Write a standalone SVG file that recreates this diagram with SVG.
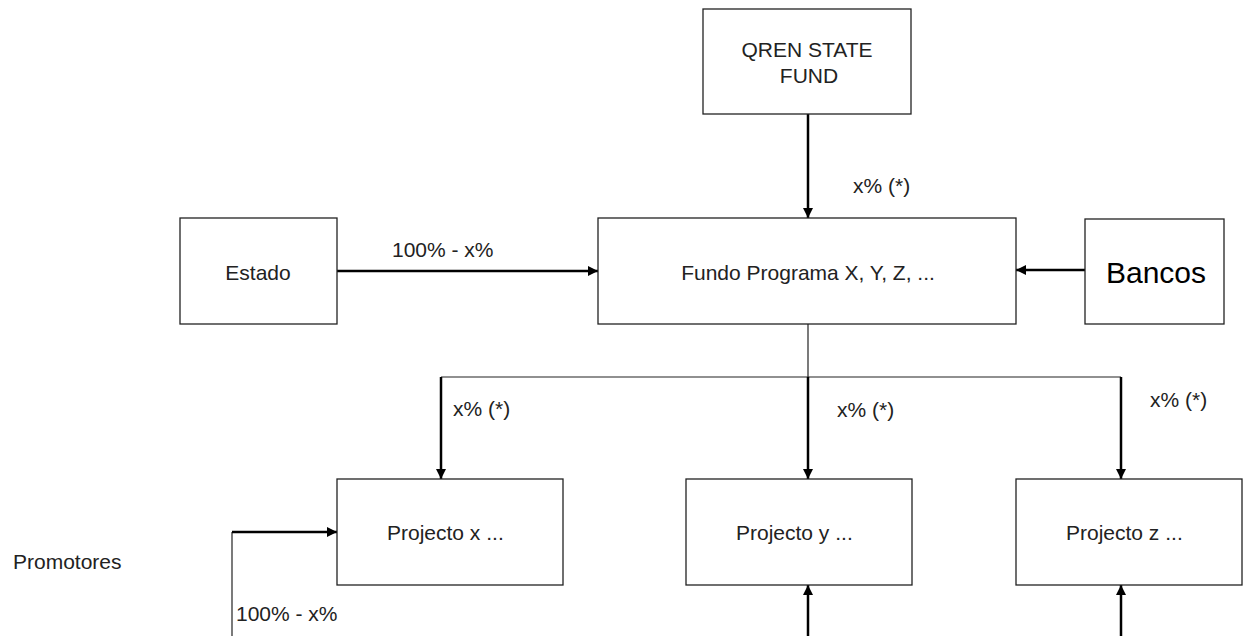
<svg xmlns="http://www.w3.org/2000/svg" width="1248" height="636" viewBox="0 0 1248 636">
<style>
.box{fill:#fff;stroke:#222;stroke-width:1.3}
.t{font-family:"Liberation Sans",Arial,sans-serif;font-size:21px;fill:#222}
.big{font-size:30px;fill:#000}
.arr{fill:none;stroke:#000;stroke-width:2.5}
.thin{fill:none;stroke:#222;stroke-width:1.2}
</style>
<defs>
<marker id="ah" viewBox="0 0 10 10" refX="10" refY="5" markerWidth="11" markerHeight="10" markerUnits="userSpaceOnUse" orient="auto">
<path d="M0,0 L10,5 L0,10 z" fill="#000"/>
</marker>
</defs>
<rect width="1248" height="636" fill="#fff"/>
<g id="connectors">
<path class="arr" d="M808,114 V218" marker-end="url(#ah)"/>
<path class="arr" d="M337,271 H598" marker-end="url(#ah)"/>
<path class="arr" d="M1085,270 H1016" marker-end="url(#ah)"/>
<path class="thin" d="M808,324 V377"/>
<path class="thin" d="M441,377 H1121" stroke-width="1.6"/>
<path class="arr" d="M441,377 V479" marker-end="url(#ah)"/>
<path class="arr" d="M808,377 V479" marker-end="url(#ah)"/>
<path class="arr" d="M1121,377 V479" marker-end="url(#ah)"/>
<path class="thin" d="M232,636 V532"/>
<path class="arr" d="M232,532 H337" marker-end="url(#ah)"/>
<path class="arr" d="M808,636 V585" marker-end="url(#ah)"/>
<path class="arr" d="M1121,636 V585" marker-end="url(#ah)"/>
<text class="t" x="853" y="193">x% (*)</text>
<text class="t" x="392" y="257">100% - x%</text>
<text class="t" x="453" y="416">x% (*)</text>
<text class="t" x="837" y="417">x% (*)</text>
<text class="t" x="1150" y="407">x% (*)</text>
<text class="t" x="236" y="621">100% - x%</text>
</g>
<g id="qren">
<rect class="box" x="703" y="9" width="208" height="105"/>
<text class="t" x="807" y="57" text-anchor="middle">QREN STATE</text>
<text class="t" x="809" y="83" text-anchor="middle">FUND</text>
</g>
<g id="estado">
<rect class="box" x="180" y="218" width="157" height="106"/>
<text class="t" x="258" y="280" text-anchor="middle">Estado</text>
</g>
<g id="fundo">
<rect class="box" x="598" y="218" width="418" height="106"/>
<text class="t" x="808" y="280" text-anchor="middle">Fundo Programa X, Y, Z, ...</text>
</g>
<g id="bancos">
<rect class="box" x="1085" y="219" width="139" height="105"/>
<text class="t big" x="1156" y="283" text-anchor="middle">Bancos</text>
</g>
<g id="projecto-x">
<rect class="box" x="337" y="479" width="226" height="106"/>
<text class="t" x="387" y="540">Projecto x ...</text>
</g>
<g id="projecto-y">
<rect class="box" x="686" y="479" width="226" height="106"/>
<text class="t" x="736" y="540">Projecto y ...</text>
</g>
<g id="projecto-z">
<rect class="box" x="1016" y="479" width="226" height="106"/>
<text class="t" x="1066" y="540">Projecto z ...</text>
</g>
<g id="promotores">
<text class="t" x="13" y="569">Promotores</text>
</g>
</svg>
